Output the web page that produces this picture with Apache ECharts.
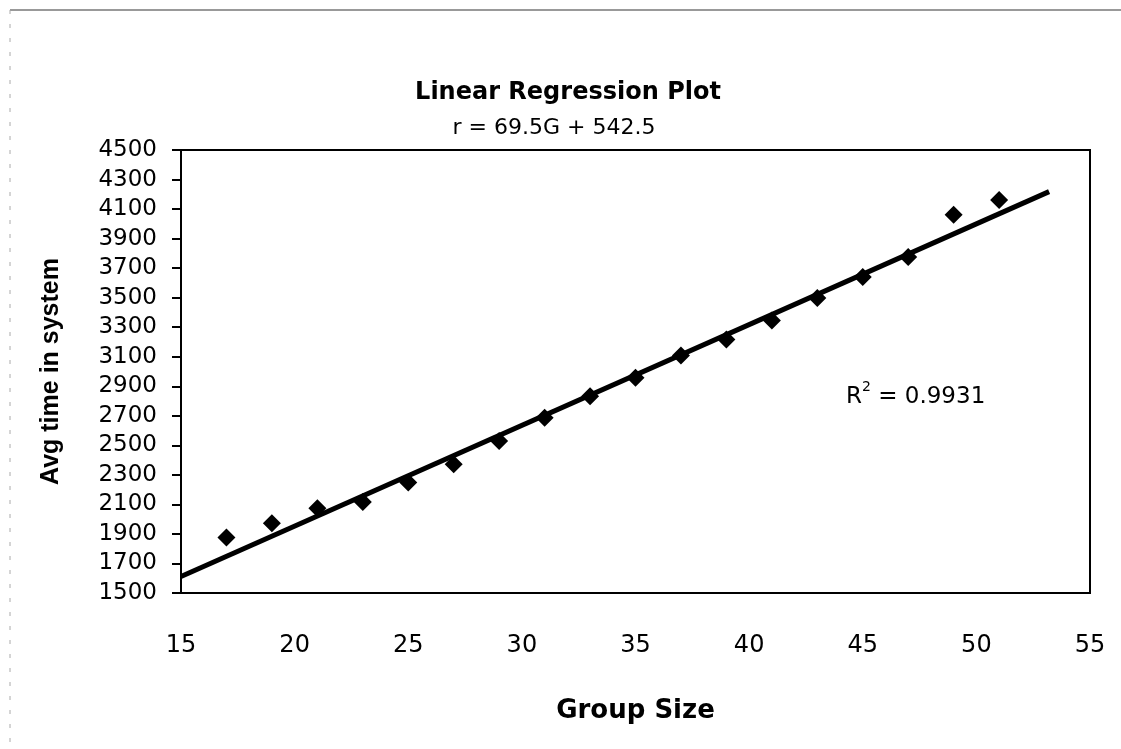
<!DOCTYPE html>
<html>
<head>
<meta charset="utf-8">
<script src="https://cdn.jsdelivr.net/npm/echarts@6/dist/echarts.min.js"></script>
<style>
html,body{margin:0;padding:0;background:#fff;}
#c{width:1121px;height:749px;}
</style>
</head>
<body>
<div id="c"></div>
<script>
const groupSize = [17,19,21,23,25,27,29,31,33,35,37,39,41,43,45,47,49,51];
const avgTime = [1876,1973,2074,2117,2248,2372,2529,2687,2833,2957,3108,3216,3345,3498,3640,3775,4061,4162];
const trendX = [15, 53.2];
const trendY = [1612, 4218];
const xTicks = [15,20,25,30,35,40,45,50,55];
const yTicks = [1500,1700,1900,2100,2300,2500,2700,2900,3100,3300,3500,3700,3900,4100,4300,4500];
const titleText = 'Linear Regression Plot';
const equationText = 'r = 69.5G + 542.5';
const r2Text = '0.9931';

const FONT = '"DejaVu Sans", Arial, sans-serif';
const FONT2 = '"Liberation Sans", Arial, sans-serif';
const chart = echarts.init(document.getElementById('c'));
chart.setOption({
  backgroundColor: '#fff',
  animation: false,
  title: [
    { text: titleText, left: 563, top: 76, textAlign: 'center',
      textStyle: { fontFamily: FONT, fontSize: 24, fontWeight: 'bold', color: '#000' } },
    { text: equationText, left: 549, top: 112, textAlign: 'center',
      textStyle: { fontFamily: FONT, fontSize: 22, fontWeight: 'normal', color: '#000' } }
  ],
  grid: { left: 181, top: 150, right: 31, bottom: 156, show: true, borderColor: '#000', borderWidth: 2, backgroundColor: '#fff' },
  xAxis: {
    type: 'value', min: xTicks[0], max: xTicks[xTicks.length-1], interval: 5,
    name: 'Group Size', nameLocation: 'middle', nameGap: 105,
    nameTextStyle: { fontFamily: FONT, fontSize: 26, fontWeight: 'bold', color: '#000' },
    axisLine: { show: true, lineStyle: { color: '#000', width: 2 } },
    axisTick: { show: false },
    splitLine: { show: false },
    axisLabel: { fontFamily: FONT, fontSize: 24, color: '#000', margin: 41, formatter: v => String(v) }
  },
  yAxis: {
    type: 'value', min: yTicks[0], max: yTicks[yTicks.length-1], interval: 200,
    name: 'Avg time in system', nameLocation: 'middle', nameGap: 117, nameRotate: 90,
    nameTextStyle: { fontFamily: FONT2, fontSize: 25, fontWeight: 'bold', color: '#000' },
    axisLine: { show: true, lineStyle: { color: '#000', width: 2 } },
    axisTick: { show: true, inside: false, length: 9, lineStyle: { color: '#000', width: 2 } },
    splitLine: { show: false },
    axisLabel: { fontFamily: FONT, fontSize: 23, color: '#000', margin: 24, formatter: v => String(v) }
  },
  series: [
    { type: 'line', data: trendX.map((x,i)=>[x, trendY[i]]), symbol: 'none',
      lineStyle: { color: '#000', width: 5 }, z: 2, silent: true },
    { type: 'scatter', data: groupSize.map((g,i)=>[g, avgTime[i]]), symbol: 'diamond', symbolSize: 18,
      itemStyle: { color: '#000', opacity: 1 }, z: 3 }
  ],
  graphic: [
    { type: 'line', shape: { x1: 10, y1: 10, x2: 1121, y2: 10 }, style: { stroke: '#777', lineWidth: 1.5 } },
    { type: 'line', shape: { x1: 10, y1: 10, x2: 10, y2: 749 }, style: { stroke: '#aaa', lineWidth: 1, lineDash: [4, 10] } },
    { type: 'text', left: 846, top: 380, style: {
        text: '{a|R}{s|2}{a| = ' + r2Text + '}',
        rich: {
          a: { fontFamily: FONT, fontSize: 23, color: '#000', verticalAlign: 'bottom', lineHeight: 29 },
          s: { fontFamily: FONT, fontSize: 14, color: '#000', verticalAlign: 'top', lineHeight: 29, padding: [0,0,10,0] }
        } } }
  ]
});
</script>
</body>
</html>
